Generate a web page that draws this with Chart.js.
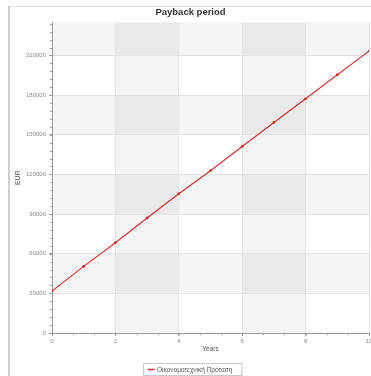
<!DOCTYPE html>
<html>
<head>
<meta charset="utf-8">
<script src="https://cdn.jsdelivr.net/npm/chart.js@4"></script>
<style>
  body { margin: 0; background: #fff; }
  #frame {
    position: absolute; left: 8px; top: 6px;
    width: 363px; height: 370px;
    border-left: 2px solid #cfcfcf; border-top: 1px solid #dcdcdc;
  }
</style>
</head>
<body>
<div id="frame"><canvas id="payback-chart"></canvas></div>
<script>
const years = [0, 1, 2, 3, 4, 5, 6, 7, 8, 9, 10];
const eurValues = [31700, 50400, 68300, 87000, 105400, 122800, 141100, 159300, 177200, 195400, 213300];
const yTicks = [0, 30000, 60000, 90000, 120000, 150000, 180000, 210000];
const xTicks = [0, 2, 4, 6, 8, 10];
const seriesLabel = 'Οικονομοτεχνική Πρόταση';

const FONT = 'Liberation Sans, Arial, sans-serif';
const red = '#d42a2a';

// alternating row / column bands like the original plot
const bandsPlugin = {
  id: 'bands',
  beforeDraw(chart) {
    const { ctx, chartArea: a, scales: { x, y } } = chart;
    ctx.save();
    ctx.fillStyle = '#fff';
    ctx.fillRect(a.left, a.top, a.right - a.left, a.bottom - a.top);
    const yb = yTicks.concat([y.max]);
    for (let i = 1; i < yb.length - 1; i += 2) {
      const t = y.getPixelForValue(yb[i + 1]), b = y.getPixelForValue(yb[i]);
      ctx.fillStyle = '#f4f4f4';
      ctx.fillRect(a.left, t, a.right - a.left, b - t);
    }
    for (let i = 1; i < xTicks.length - 1; i += 2) {
      const l = x.getPixelForValue(xTicks[i]), r = x.getPixelForValue(xTicks[i + 1]);
      ctx.fillStyle = 'rgba(0,0,0,0.045)';
      ctx.fillRect(l, a.top, r - l, a.bottom - a.top);
    }
    ctx.restore();
  },
  afterDraw(chart) {
    const { ctx, chartArea: a, scales: { x, y } } = chart;
    ctx.save();
    ctx.strokeStyle = '#999';
    ctx.lineWidth = 1;
    ctx.beginPath();
    // minor ticks
    for (let v = 6000; v < y.max; v += 6000) {
      const py = Math.round(y.getPixelForValue(v)) + 0.5;
      ctx.moveTo(a.left - 2, py); ctx.lineTo(a.left, py);
    }
    for (let v = 2 / 3; v < x.max; v += 2 / 3) {
      const px = Math.round(x.getPixelForValue(v)) + 0.5;
      ctx.moveTo(px, a.bottom); ctx.lineTo(px, a.bottom + 2);
    }
    ctx.stroke();

    // legend box
    ctx.font = '6.5px ' + FONT;
    const tw = ctx.measureText(seriesLabel).width;
    const w = 6 + 7 + 3 + tw + 7;
    const cx = chart.width / 2 + 1;
    const bx = Math.round(cx - w / 2) + 0.5, by = 356.5, bh = 12;
    ctx.strokeStyle = '#c8c8c8';
    ctx.strokeRect(bx, by, w, bh);
    ctx.strokeStyle = red;
    ctx.lineWidth = 1.5;
    ctx.beginPath();
    ctx.moveTo(bx + 4, by + bh / 2); ctx.lineTo(bx + 11, by + bh / 2);
    ctx.stroke();
    ctx.fillStyle = '#555';
    ctx.textBaseline = 'middle';
    ctx.fillText(seriesLabel, bx + 13.5, by + bh / 2 + 0.5);
    ctx.restore();
  }
};

new Chart(document.getElementById('payback-chart'), {
  type: 'line',
  data: {
    datasets: [{
      label: seriesLabel,
      data: years.map((yr, i) => ({ x: yr, y: eurValues[i] })),
      borderColor: red,
      backgroundColor: red,
      borderWidth: 1.1,
      pointRadius: 1.4,
      pointBorderWidth: 0,
      pointBackgroundColor: red,
      tension: 0,
    }],
  },
  options: {
    responsive: true,
    maintainAspectRatio: false,
    animation: false,
    layout: { padding: { left: 0, right: 2, top: 0, bottom: 18 } },
    plugins: {
      legend: { display: false },
      tooltip: { enabled: false },
      title: {
        display: true,
        text: 'Payback period',
        color: '#333',
        font: { family: FONT, size: 9.5, weight: 'bold' },
        padding: { top: 0, bottom: 4 },
      },
    },
    scales: {
      x: {
        type: 'linear',
        min: 0,
        max: 10,
        afterBuildTicks: (s) => { s.ticks = xTicks.map(v => ({ value: v })); },
        afterFit: (s) => { s.height = 26; s.paddingLeft = 0; s.paddingRight = 0; },
        ticks: { color: '#888', font: { family: FONT, size: 6 }, padding: 2, maxRotation: 0 },
        grid: { color: '#e2e2e2', tickColor: '#999', tickLength: 3 },
        border: { color: '#999' },
        title: {
          display: true, text: 'Years', color: '#555',
          font: { family: FONT, size: 6.5 }, padding: { top: 2, bottom: 6 },
        },
      },
      y: {
        min: 0,
        max: 235000,
        afterBuildTicks: (s) => { s.ticks = yTicks.map(v => ({ value: v })); },
        afterFit: (s) => { s.width = 42; s.paddingTop = 0; s.paddingBottom = 0; },
        ticks: {
          color: '#888', font: { family: FONT, size: 6 }, padding: 3,
          callback: (v) => String(v),
        },
        grid: { color: '#e2e2e2', tickColor: '#999', tickLength: 3 },
        border: { color: '#999' },
        title: {
          display: true, text: 'EUR', color: '#555',
          font: { family: FONT, size: 7 }, padding: { top: 4, bottom: 0 },
        },
      },
    },
  },
  plugins: [bandsPlugin],
});
</script>
</body>
</html>
